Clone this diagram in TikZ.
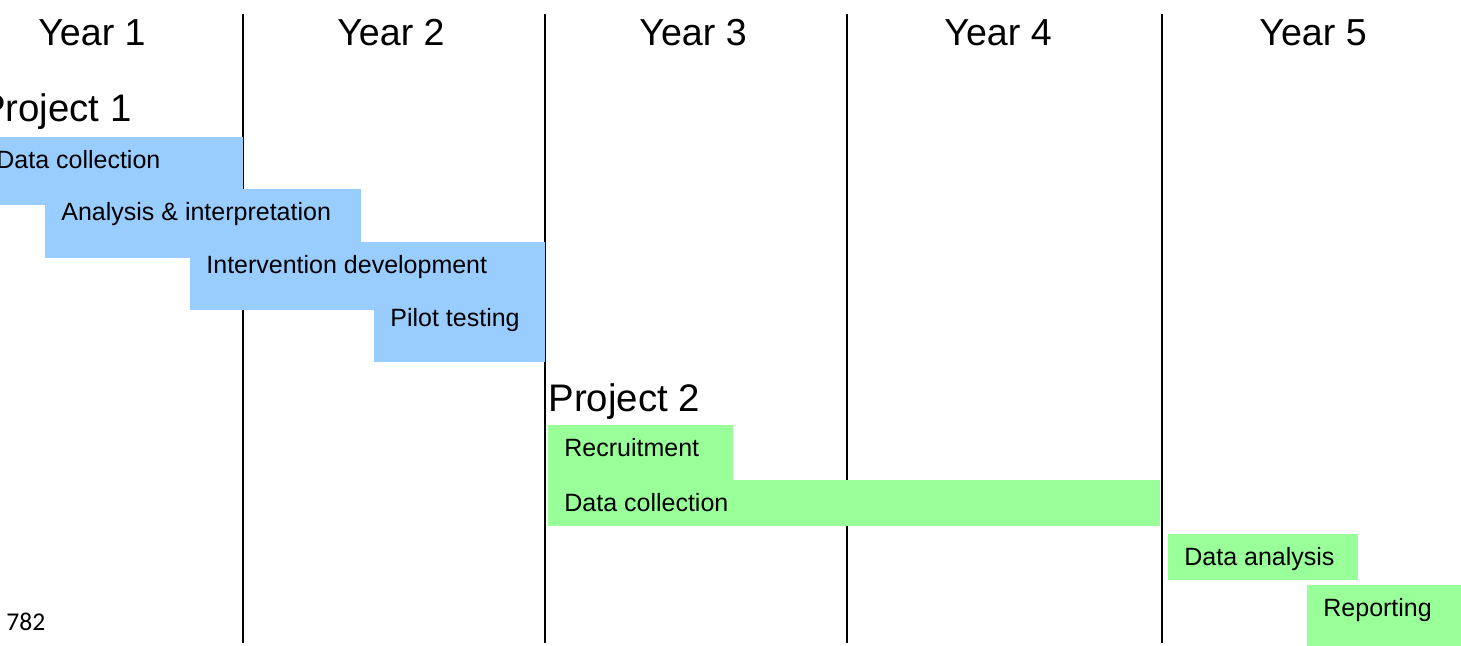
\documentclass[tikz,border=0pt]{standalone}
\usepackage{fontspec}
\setmainfont{Liberation Sans}
\newfontfamily\pagenumfont{Carlito}
\definecolor{phaseblue}{HTML}{99CCFF}
\definecolor{phasegreen}{HTML}{99FF99}

\begin{document}
\begin{tikzpicture}[x=0.5pt,y=-0.5pt,
    yearline/.style={line width=1pt},
    yearlabel/.style={anchor=base,inner sep=0pt,font=\fontsize{18.8}{21}\selectfont},
    projlabel/.style={inner sep=0pt,font=\fontsize{19.2}{21}\selectfont},
    tasklabel/.style={anchor=base west,inner sep=0pt,font=\fontsize{12.5}{14}\selectfont}]
    \useasboundingbox (0,0) rectangle (1461,646);
    % year columns
    \foreach \xl in {243,545,847,1162}
        \draw[yearline] (\xl,14) -- (\xl,643);
    \foreach \yr/\xc in {1/92,2/391,3/693,4/998,5/1313}
        \node[yearlabel] (year\yr) at (\xc,45.5) {Year \yr};
    % project headings
    \node[projlabel,anchor=base east] (proj1) at (132,122) {Project 1};
    \node[projlabel,anchor=base west] (proj2) at (548,412) {Project 2};
    % tasks
    \foreach \name/\xa/\ya/\xb/\yb/\col/\txt in {
            p1dc/-20/137/243/205/phaseblue/Data collection,
            p1ai/45/189/361/258/phaseblue/Analysis \& interpretation,
            p1id/190/242/545/310/phaseblue/Intervention development,
            p1pt/374/295/545/362/phaseblue/Pilot testing,
            p2rc/548/425/733/480/phasegreen/Recruitment,
            p2dc/548/480/1160/526/phasegreen/Data collection,
            p2da/1168/534/1358/580/phasegreen/Data analysis,
            p2rp/1307/585/1461/646/phasegreen/Reporting} {
        \fill[\col] (\xa,\ya) rectangle (\xb,\yb);
        \node[tasklabel] (\name) at (\xa+16,\ya+31.5) {\txt};
    }
    \node[anchor=base west,inner sep=0pt,font=\pagenumfont\fontsize{12.8}{14}\selectfont] (pagenum) at (6,630) {782};
\end{tikzpicture}
\end{document}
